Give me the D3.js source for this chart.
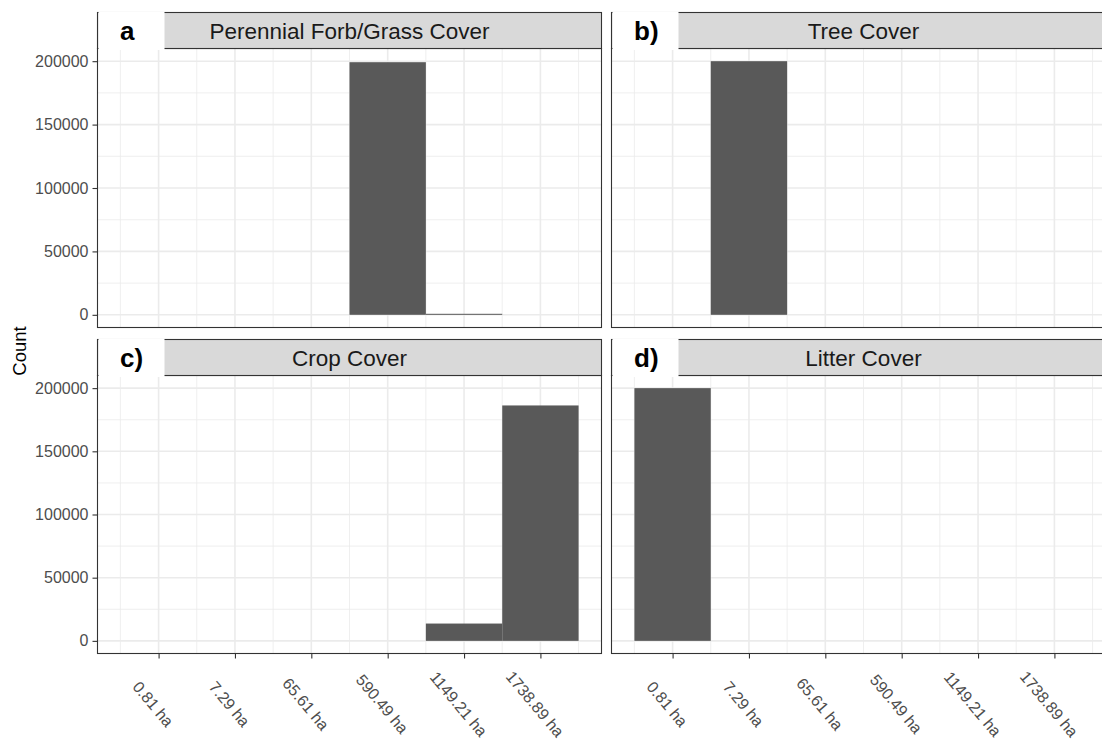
<!DOCTYPE html>
<html>
<head>
<meta charset="utf-8">
<script src="https://cdn.jsdelivr.net/npm/d3@7"></script>
<style>
  html, body { margin: 0; padding: 0; background: #ffffff; }
  svg { display: block; font-family: "Liberation Sans", Arial, sans-serif; }
</style>
</head>
<body>
<svg id="chart" width="1102" height="740"></svg>
<script>
// Patch-size classes on the x axis
const sizeLabels = ["0.81 ha", "7.29 ha", "65.61 ha", "590.49 ha", "1149.21 ha", "1738.89 ha"];
// Facet titles and tags
const panelTitles = ["Perennial Forb/Grass Cover", "Tree Cover", "Crop Cover", "Litter Cover"];
const panelTags = ["a", "b)", "c)", "d)"];
// Counts per patch-size class, one array per cover type
const forbGrassCounts = [0, 0, 0, 199200, 800, 0];
const treeCounts = [0, 200000, 0, 0, 0, 0];
const cropCounts = [0, 0, 0, 0, 13700, 186300];
const litterCounts = [200000, 0, 0, 0, 0, 0];
// Count axis breaks
const yTicks = [0, 50000, 100000, 150000, 200000];
const yMinor = [25000, 75000, 125000, 175000];

const seriesList = [forbGrassCounts, treeCounts, cropCounts, litterCounts];

const svg = d3.select("#chart");

const col = {
  border: "#333333",
  grid: "#ebebeb",
  strip: "#d9d9d9",
  bar: "#595959",
  axisText: "#4d4d4d",
  stripText: "#1a1a1a"
};
const FONT = "'Liberation Sans', Arial, sans-serif";

// Facet geometry
const colX = [[97.5, 601.5], [611.5, 1115.5]];
const rowY = [{ strip: 12.5, top: 48.5, bottom: 327.5 }, { strip: 339.5, top: 375.5, bottom: 653.5 }];

const maxCount = d3.max(seriesList.flat());
const yDomain = [-0.05 * maxCount, 1.05 * maxCount];
const xDomain = [0.5 - 0.3, sizeLabels.length + 0.5 + 0.3];

panelTitles.forEach((title, p) => {
  const r = Math.floor(p / 2), c = p % 2;
  const [x0, x1] = colX[c];
  const { strip, top, bottom } = rowY[r];
  const data = seriesList[p];

  const x = d3.scaleLinear().domain(xDomain).range([x0, x1]);
  const y = d3.scaleLinear().domain(yDomain).range([bottom, top]);

  const g = svg.append("g");

  // grid: minor then major
  const xMinor = d3.range(0.5, sizeLabels.length + 1, 1);
  const xMajor = d3.range(1, sizeLabels.length + 1, 1);
  g.selectAll(".xminor").data(xMinor).join("line")
    .attr("x1", d => x(d)).attr("x2", d => x(d))
    .attr("y1", top).attr("y2", bottom)
    .attr("stroke", col.grid).attr("stroke-width", 0.8);
  g.selectAll(".yminor").data(yMinor).join("line")
    .attr("x1", x0).attr("x2", x1)
    .attr("y1", d => y(d)).attr("y2", d => y(d))
    .attr("stroke", col.grid).attr("stroke-width", 0.8);
  g.selectAll(".xmajor").data(xMajor).join("line")
    .attr("x1", d => x(d)).attr("x2", d => x(d))
    .attr("y1", top).attr("y2", bottom)
    .attr("stroke", col.grid).attr("stroke-width", 1.6);
  g.selectAll(".ymajor").data(yTicks).join("line")
    .attr("x1", x0).attr("x2", x1)
    .attr("y1", d => y(d)).attr("y2", d => y(d))
    .attr("stroke", col.grid).attr("stroke-width", 1.6);

  // bars, one per non-empty size class
  const bars = data.map((v, i) => ({ i: i + 1, v })).filter(d => d.v > 0);
  g.selectAll(".bar").data(bars).join("rect")
    .attr("x", d => x(d.i - 0.5))
    .attr("width", d => x(d.i + 0.5) - x(d.i - 0.5))
    .attr("y", d => y(d.v))
    .attr("height", d => y(0) - y(d.v))
    .attr("fill", col.bar);

  // panel border
  g.append("rect")
    .attr("x", x0).attr("y", top)
    .attr("width", x1 - x0).attr("height", bottom - top)
    .attr("fill", "none").attr("stroke", col.border).attr("stroke-width", 1.1);

  // strip
  g.append("rect")
    .attr("x", x0).attr("y", strip)
    .attr("width", x1 - x0).attr("height", top - strip)
    .attr("fill", col.strip).attr("stroke", col.border).attr("stroke-width", 1.1);
  g.append("text")
    .attr("x", (x0 + x1) / 2).attr("y", (strip + top) / 2)
    .attr("dy", "0.38em")
    .attr("text-anchor", "middle")
    .attr("fill", col.stripText)
    .style("font-family", FONT)
    .style("font-size", "22.5px")
    .text(title);

  // tag box over the strip's left end
  g.append("rect")
    .attr("x", x0 + 1).attr("y", strip - 1)
    .attr("width", 66).attr("height", top - strip + 2.5)
    .attr("fill", "#ffffff");
  g.append("text")
    .attr("x", x0 + 22.5).attr("y", (strip + top) / 2)
    .attr("dy", "0.37em")
    .attr("text-anchor", "start")
    .attr("font-weight", "bold")
    .attr("fill", "#000000")
    .style("font-family", FONT)
    .style("font-size", "26px")
    .text(panelTags[p]);

  // left axis on first column
  if (c === 0) {
    const ax = g.append("g")
      .attr("transform", `translate(${x0},0)`)
      .call(d3.axisLeft(y).tickValues(yTicks).tickSize(5).tickPadding(4).tickFormat(d3.format("d")));
    ax.select(".domain").remove();
    ax.selectAll(".tick line").attr("stroke", col.border).attr("stroke-width", 1.1);
    ax.selectAll(".tick text")
      .attr("fill", col.axisText)
      .style("font-family", FONT)
      .style("font-size", "16px");
  }

  // bottom axis on second row
  if (r === 1) {
    const ax = g.append("g")
      .attr("transform", `translate(0,${bottom})`)
      .call(d3.axisBottom(x).tickValues(xMajor).tickSize(5).tickFormat(d => sizeLabels[d - 1]));
    ax.select(".domain").remove();
    ax.selectAll(".tick line").attr("stroke", col.border).attr("stroke-width", 1.1);
    ax.selectAll(".tick text")
      .attr("fill", col.axisText)
      .style("font-family", FONT)
      .style("font-size", "16px")
      .attr("text-anchor", "middle")
      .attr("y", null)
      .attr("dy", "0.35em")
      .attr("transform", "translate(-6,50.5) rotate(50)");
  }
});

// shared y-axis title
svg.append("text")
  .attr("transform", `translate(25.5,${(rowY[0].top + rowY[1].bottom) / 2}) rotate(-90)`)
  .attr("text-anchor", "middle")
  .attr("fill", "#000000")
  .style("font-family", FONT)
  .style("font-size", "18.5px")
  .text("Count");
</script>
</body>
</html>
